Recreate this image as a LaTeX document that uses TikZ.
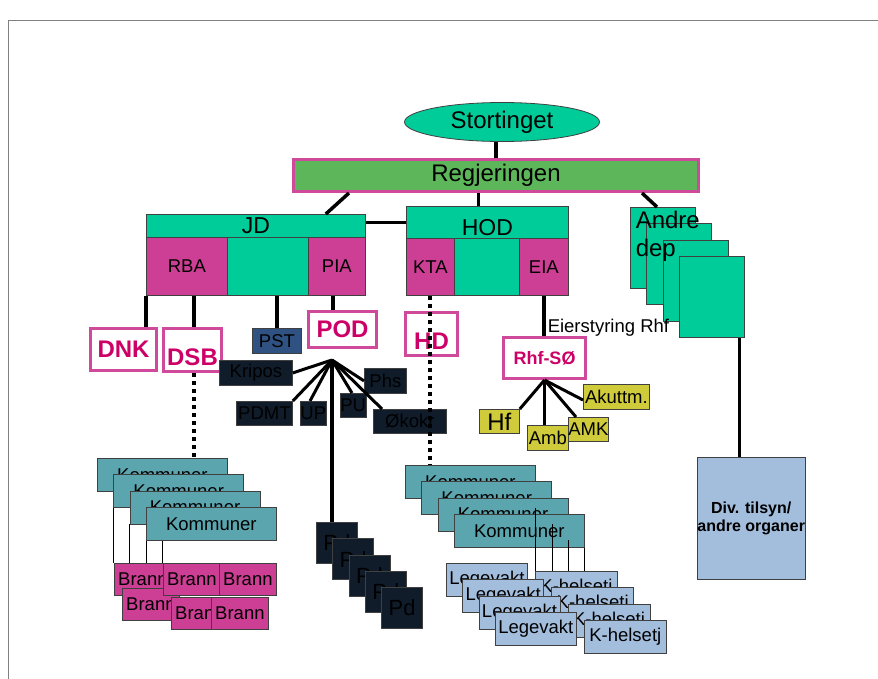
\documentclass[tikz,border=0pt]{standalone}
\usepackage{fontspec}
\setmainfont{Liberation Sans}
\usepackage{xcolor}
\usepackage{tikz}
\usetikzlibrary{shapes.geometric}

\definecolor{depgreen}{HTML}{00CC99}
\definecolor{regjgreen}{HTML}{5DB75A}
\definecolor{unitpink}{HTML}{CC3F94}
\definecolor{linepink}{HTML}{D04A9C}
\definecolor{textpink}{HTML}{CC0066}
\definecolor{pstblue}{HTML}{2F5282}
\definecolor{navy}{HTML}{101C2A}
\definecolor{kommgreen}{HTML}{5BA5AF}
\definecolor{helseblue}{HTML}{A3BEDD}
\definecolor{rhfyellow}{HTML}{CFCB3A}

\begin{document}
\begin{tikzpicture}[x=1pt,y=-1pt,line width=3.5pt,
    box/.style={draw=black!75,line width=0.8pt,inner sep=0pt,anchor=north west,
                font=\fontsize{18.5}{18.5}\selectfont},
    dep/.style={box,fill=depgreen},
    unit/.style={box,fill=unitpink},
    agency/.style={box,draw=linepink,line width=3pt,fill=white,text=textpink,
                   font=\bfseries\fontsize{24}{24}\selectfont},
    police/.style={box,fill=navy},
    kommune/.style={box,fill=kommgreen,minimum width=130,minimum height=33},
    brann/.style={box,fill=unitpink,minimum width=57,minimum height=32},
    helse/.style={box,fill=helseblue,minimum height=33},
    rhf/.style={box,fill=rhfyellow},
    dots/.style={line width=4pt,dash pattern=on 4pt off 4pt},
    thin/.style={line width=0.8pt}]

  \useasboundingbox (0,0) rectangle (878,678);
  \draw[gray,line width=1pt] (880,20) -| (8,680);

  \node[ellipse,draw=black!75,line width=0.8pt,fill=depgreen,minimum width=195,
        minimum height=39,inner sep=0pt,font=\fontsize{24}{24}\selectfont] (sting) at (502,122) {Stortinget};
  \node[box,draw=linepink,line width=3pt,fill=regjgreen,minimum width=405,minimum height=32,
        font=\fontsize{24}{24}\selectfont] (regj) at (292,158) {Regjeringen};

  \node[dep,minimum width=219,minimum height=23,font=\fontsize{23}{23}\selectfont] (jd) at (146,214) {JD};
  \node[unit,minimum width=81,minimum height=58] (rba) at (146,237) {RBA};
  \node[dep,minimum width=81,minimum height=58] (jdmid) at (227,237) {};
  \node[unit,minimum width=57,minimum height=58] (pia) at (308,237) {PIA};

  \node[dep,minimum width=162,minimum height=32,text height=26pt,font=\fontsize{23}{23}\selectfont] (hod) at (406,206) {HOD};
  \node[unit,minimum width=48,minimum height=57] (kta) at (406,238) {KTA};
  \node[dep,minimum width=65,minimum height=57] (hodmid) at (454,238) {};
  \node[unit,minimum width=49,minimum height=57] (eia) at (519,238) {EIA};

  \foreach \i in {1,...,4}
    \node[dep,minimum width=65,minimum height=81] (andre\i) at ({630+16.3*(\i-1)},{207+16.3*(\i-1)}) {};
  \node[anchor=north west,inner sep=0pt,align=left,font=\fontsize{24}{28}\selectfont] (andretxt) at (634,209) {Andre\\dep};
  \node[box,fill=helseblue,minimum width=106,minimum height=122,align=center,
        font=\bfseries\fontsize{16}{18}\selectfont] (div) at (697,457) {Div. tilsyn/\\andre organer};

  \node[agency,minimum width=66,minimum height=42] (dnk) at (89,327) {DNK};
  \node[agency,minimum width=58,minimum height=43,text height=31pt] (dsb) at (162,327) {DSB};
  \node[box,fill=pstblue,minimum width=49,minimum height=25] (pst) at (252,328) {PST};
  \node[agency,minimum width=68,minimum height=36] (pod) at (307,310) {POD};
  \node[agency,minimum width=52,minimum height=43,text height=31pt] (hd) at (404,311) {HD};

  \coordinate (fan) at (332,360);
  \node[police,minimum width=73,minimum height=25] (kripos) at (219,360) {Kripos};
  \node[police,minimum width=56,minimum height=24] (pdmt) at (236,401) {PDMT};
  \node[police,minimum width=25,minimum height=24] (up) at (300,401) {UP};
  \node[police,minimum width=25,minimum height=24] (pu) at (340,393) {PU};
  \node[police,minimum width=42,minimum height=25] (phs) at (364,368) {Phs};
  \node[police,minimum width=73,minimum height=24] (okokr) at (373,409) {Økokr};
  \foreach \i in {1,...,5}
    \node[police,minimum width=41,minimum height=41,font=\fontsize{22}{22}\selectfont] (pd\i) at ({316+16.3*(\i-1)},{522+16.3*(\i-1)}) {Pd};

  \foreach \i in {1,...,4}
    \node[kommune] (kv\i) at ({97+16.3*(\i-1)},{458+16.3*(\i-1)}) {Kommuner};
  \node[brann] (brann1) at (114,563) {Brann};
  \node[brann] (brann2) at (122,588) {Brann};
  \node[brann] (brann3) at (163,563) {Brann};
  \node[brann] (brann4) at (219,563) {Brann};
  \node[brann] (brann5) at (171,597) {Brann};
  \node[brann] (brann6) at (211,597) {Brann};

  \foreach \i in {1,...,4}
    \node[kommune] (kh\i) at ({405+16.3*(\i-1)},{465+16.3*(\i-1)}) {Kommuner};
  \foreach \i in {1,...,4} {
    \node[helse,minimum width=81] (lege\i) at ({446+16.3*(\i-1)},{563+16.3*(\i-1)}) {Legevakt};
    \node[helse,minimum width=82] (khelse\i) at ({535+16.3*(\i-1)},{571+16.3*(\i-1)}) {K-helsetj};
  }

  \node[agency,minimum width=82,minimum height=41,font=\bfseries\fontsize{18}{18}\selectfont] (rhf) at (502,336) {Rhf-SØ};
  \node[anchor=west,inner sep=0pt,font=\fontsize{18.5}{18.5}\selectfont] (eier) at (546,328) {Eierstyring Rhf};
  \node[rhf,minimum width=40,minimum height=24,font=\fontsize{24}{24}\selectfont] (hf) at (479,409) {Hf};
  \node[rhf,minimum width=41,minimum height=25] (amb) at (527,425) {Amb};
  \node[rhf,minimum width=40,minimum height=24] (amk) at (568,417) {AMK};
  \node[rhf,minimum width=66,minimum height=25] (akuttm) at (583,384) {Akuttm.};

  \coordinate (hodin) at ([xshift=-9pt]hod.north);
  \coordinate (dsbin) at ([xshift=48pt]rba.south west);
  \coordinate (podin) at ([xshift=-4pt]pia.south);
  \coordinate (divin) at ([xshift=-5pt]andre4.south east);

  \draw (regj.north) -- (regj.north |- sting.south);
  \draw ([xshift=57pt]regj.south west) -- ([xshift=-40pt]jd.north east);
  \draw (hodin) -- (hodin |- regj.south);
  \draw ([xshift=-58pt]regj.south east) -- ([xshift=27pt]andre1.north west);
  \draw (hod.west) -- (hod.west -| jd.east);
  \draw (rba.south west) -- (rba.south west |- dnk.north);
  \draw (dsbin) -- (dsbin |- dsb.north);
  \draw (pst.north |- jdmid.south) -- (pst.north);
  \draw (podin) -- (podin |- pod.north);
  \draw (eia.south) -- (eia.south |- rhf.north);
  \draw (divin) -- (divin |- div.north);
  \draw[dots] (dsbin |- dsb.south) -- (dsbin |- kv1.north);
  \draw[dots] (kta.south) -- (kta.south |- kh1.north);

  \path[line width=3pt] (fan) edge (kripos.east)
              edge (pdmt.north east)
              edge ([xshift=10pt]up.north west)
              edge ([xshift=12pt]pu.north west)
              edge (phs.west)
              edge ([xshift=9pt]okokr.north west)
              edge[line width=4pt] (fan |- pd1.north);
  \path[line width=3pt] (rhf.south) edge (hf.north east)
              edge (rhf.south |- amb.north)
              edge ([xshift=8pt]amk.north west)
              edge ([yshift=-16pt]akuttm.north west);

  \foreach \k in {kv2,kv3,kv4}
    \draw[thin] (\k.south west) -- (\k.south west |- brann1.north);
  \coordinate (kvlast) at ([xshift=16pt]kv4.south west);
  \draw[thin] (kvlast) -- (kvlast |- brann1.north);
  \foreach \i/\s in {1/9,2/9,3/9,4/0}
    \draw[thin] ([yshift=-\s pt]kh\i.south east) -- (kh\i.south east |- khelse1.north);
\end{tikzpicture}
\end{document}
